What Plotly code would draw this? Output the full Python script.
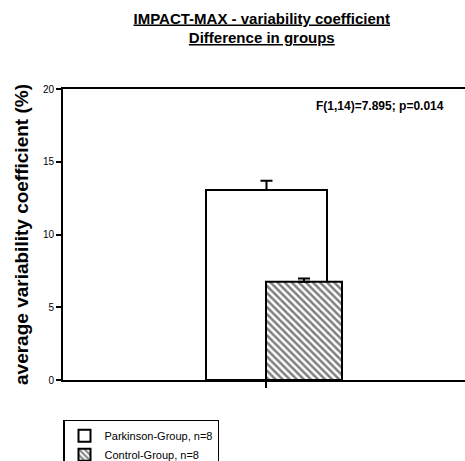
import plotly.graph_objects as go

groups = ["Parkinson-Group, n=8", "Control-Group, n=8"]
means = [13.05, 6.75]
errors = [0.65, 0.22]
y_ticks = [0, 5, 10, 15, 20]
title_lines = ["IMPACT-MAX - variability coefficient", "Difference in groups"]
stat_text = "F(1,14)=7.895; p=0.014"
y_title = "average variability coefficient (%)"

FONT = "Liberation Sans, Arial, sans-serif"

fig = go.Figure()
fig.add_trace(go.Bar(
    x=[0], y=[means[0]], name=groups[0],
    width=[1.21], offset=[-0.60],
    marker=dict(color="white", line=dict(color="black", width=2)),
    error_y=dict(type="data", array=[errors[0]], symmetric=False, arrayminus=[0],
                 color="black", thickness=2, width=6),
))
fig.add_trace(go.Bar(
    x=[0], y=[means[1]], name=groups[1],
    width=[0.76], offset=[0.0],
    marker=dict(color="white", line=dict(color="black", width=2),
                pattern=dict(shape="\\", fgcolor="black", bgcolor="white",
                             size=5, solidity=0.5, fillmode="overlay")),
    error_y=dict(type="data", array=[errors[1]], symmetric=False, arrayminus=[0],
                 color="black", thickness=2, width=6),
))

fig.update_layout(
    width=465, height=461,
    margin=dict(l=63, r=0, t=89, b=81, autoexpand=False),
    paper_bgcolor="white", plot_bgcolor="white",
    barmode="overlay",
    font=dict(family=FONT, color="black", size=11),
    title=dict(text="<b><u>" + title_lines[0] + "</u></b><br><b><u>" + title_lines[1] + "</u></b>",
               x=0.563, xanchor="center", y=0.949, yanchor="top",
               font=dict(size=15, family=FONT)),
    showlegend=True,
    legend=dict(x=0, y=-0.137, xanchor="left", yanchor="top",
                bordercolor="black", borderwidth=1.5, bgcolor="white",
                font=dict(size=11, family=FONT), traceorder="normal",
                itemwidth=30, tracegroupgap=0),
    xaxis=dict(range=[-2.03, 1.99], showgrid=False, zeroline=False,
               showline=True, linecolor="black", linewidth=2, mirror=True,
               tickvals=[0], ticktext=[""], ticks="outside", ticklen=6,
               tickwidth=2, tickcolor="black", fixedrange=True),
    yaxis=dict(range=[0, 20], showgrid=False, zeroline=False,
               showline=True, linecolor="black", linewidth=2,
               tickvals=y_ticks, ticks="outside", ticklen=5, tickwidth=2,
               tickcolor="black", tickfont=dict(size=10, family=FONT),
               title=dict(text="<b>" + y_title + "</b>", font=dict(size=19, family=FONT),
                          standoff=9)),
    annotations=[dict(text="<b>" + stat_text + "</b>", x=0.953, y=0.94,
                      xref="paper", yref="paper", xanchor="right", yanchor="middle",
                      showarrow=False, font=dict(size=12, family=FONT))],
)

fig.write_html("out.html")
